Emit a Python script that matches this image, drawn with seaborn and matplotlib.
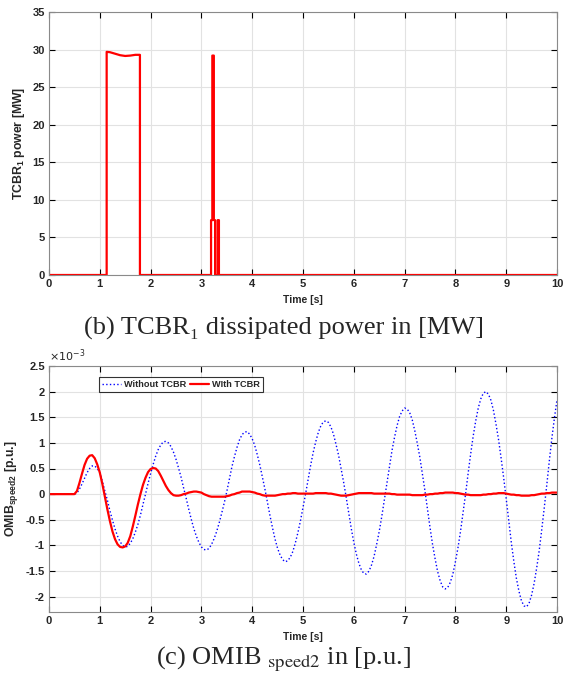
import numpy as np
import pandas as pd
import matplotlib
matplotlib.use("Agg")
import matplotlib.pyplot as plt
import seaborn as sns
from matplotlib.ticker import FuncFormatter

# --- data ---
# (b) TCBR1 dissipated power [MW]
power_t = [0, 1.135, 1.135, 1.2, 1.3, 1.4, 1.5, 1.6, 1.7, 1.79, 1.79,
           3.19, 3.19, 3.215, 3.215, 3.245, 3.245, 3.27, 3.27,
           3.32, 3.32, 3.345, 3.345, 10]
power_mw = [0, 0, 29.7, 29.65, 29.45, 29.25, 29.15, 29.2, 29.3, 29.3, 0,
            0, 7.3, 7.3, 29.2, 29.2, 7.3, 7.3, 0,
            0, 7.3, 7.3, 0, 0]

# (c) OMIB speed2 [x1e-3 p.u.], read every 0.05 s
time_s = [round(0.05 * i, 2) for i in range(201)]
without_tcbr = [
    0, 0, 0, 0, 0, 0, 0, 0, 0, 0,
    0, 0.02, 0.1, 0.2, 0.31, 0.42, 0.5, 0.55, 0.55, 0.5, 0.42, 0.25, 0.06,
    -0.12, -0.33, -0.51, -0.68, -0.82, -0.93, -1.0, -1.03, -1.02, -0.96, -0.87, -0.74, -0.59, -0.41, -0.2, 0.0,
    0.21, 0.4, 0.58, 0.74, 0.87, 0.96, 1.02, 1.03, 1.0, 0.93, 0.82, 0.68, 0.51, 0.33, 0.12,
    -0.08, -0.29, -0.49, -0.67, -0.82, -0.94, -1.03, -1.08, -1.09, -1.06, -0.98, -0.87, -0.73, -0.56, -0.37, -0.17,
    0.05, 0.29, 0.53, 0.73, 0.91, 1.06, 1.16, 1.21, 1.22, 1.17, 1.08, 0.95, 0.77, 0.57, 0.34, 0.1,
    -0.16, -0.42, -0.66, -0.88, -1.06, -1.19, -1.28, -1.32, -1.3, -1.23, -1.12, -0.95, -0.75, -0.52, -0.26, 0.0,
    0.28, 0.56, 0.81, 1.02, 1.2, 1.33, 1.41, 1.43, 1.4, 1.31, 1.17, 0.97, 0.76, 0.5, 0.23,
    -0.06, -0.37, -0.67, -0.94, -1.17, -1.35, -1.48, -1.55, -1.56, -1.5, -1.38, -1.21, -0.98, -0.73, -0.44, -0.12,
    0.2, 0.52, 0.84, 1.1, 1.33, 1.51, 1.62, 1.68, 1.66, 1.59, 1.45, 1.24, 0.99, 0.72, 0.4, 0.07,
    -0.29, -0.65, -0.98, -1.26, -1.51, -1.69, -1.81, -1.85, -1.82, -1.72, -1.56, -1.32, -1.05, -0.73, -0.37, 0.0,
    0.4, 0.78, 1.13, 1.43, 1.68, 1.86, 1.97, 2.0, 1.95, 1.83, 1.63, 1.36, 1.06, 0.7, 0.32,
    -0.09, -0.52, -0.94, -1.31, -1.64, -1.89, -2.08, -2.18, -2.2, -2.13, -1.97, -1.74, -1.44, -1.1, -0.69, -0.26,
    0.19, 0.66, 1.1, 1.49, 1.84]
with_tcbr = [
    0, 0, 0, 0, 0, 0, 0, 0, 0, 0,
    0, 0.06, 0.22, 0.4, 0.57, 0.69, 0.75, 0.76, 0.7, 0.58,
    0.42, 0.2, -0.05, -0.3, -0.53, -0.73, -0.88, -0.98, -1.03, -1.04,
    -1.02, -0.95, -0.82, -0.63, -0.42, -0.2, 0.0, 0.18, 0.32, 0.43,
    0.49, 0.51, 0.5, 0.45, 0.36, 0.26, 0.16, 0.08, 0.02, -0.02,
    -0.03, -0.03, -0.02,
    0.0, 0.01, 0.03, 0.04, 0.05, 0.05, 0.04, 0.03, 0.0, -0.02,
    -0.04, -0.05, -0.05, -0.05, -0.05, -0.05, -0.05, -0.04, -0.03, -0.01,
    0.0, 0.02, 0.03, 0.05, 0.05, 0.05, 0.05, 0.04, 0.03, 0.01,
    0.0, -0.02, -0.03, -0.03, -0.03, -0.03, -0.03, -0.02, -0.01, 0.0,
    0.0, 0.01, 0.01, 0.02, 0.02, 0.01, 0.01, 0.01, 0.01, 0.01,
    0.01, 0.01, 0.02, 0.02, 0.02, 0.02, 0.02, 0.01, 0.01, 0.0,
    -0.01, -0.02, -0.03, -0.03, -0.03, -0.02, -0.01, 0.0, 0.01, 0.02,
    0.02, 0.02, 0.02, 0.02, 0.02, 0.01, 0.01, 0.01, 0.01, 0.01,
    0.01, 0.01, 0.0, 0.0, -0.01, -0.01, -0.01, -0.01, -0.01, -0.01,
    -0.02, -0.02, -0.02, -0.02, -0.02, -0.01, -0.01, 0.0, 0.0, 0.01,
    0.01, 0.02, 0.02, 0.03, 0.03, 0.03, 0.03, 0.02, 0.02, 0.01,
    0.0, -0.01, -0.01, -0.02, -0.02, -0.02, -0.02, -0.02, -0.01, -0.01,
    0.0, 0.0, 0.01, 0.01, 0.02, 0.02, 0.02, 0.01, 0.0, -0.01,
    -0.01, -0.02, -0.02, -0.03, -0.03, -0.03, -0.03, -0.02, -0.02, -0.01,
    0.0, 0.01, 0.01, 0.02, 0.02, 0.03, 0.03, 0.03]

sns.set_style("ticks")
plt.rcParams['font.family'] = ['Liberation Sans', 'DejaVu Sans']
plt.rcParams['axes.unicode_minus'] = False
plt.rcParams['mathtext.fontset'] = 'custom'
plt.rcParams['mathtext.rm'] = 'Liberation Sans:bold'
plt.rcParams['mathtext.bf'] = 'Liberation Sans:bold'
plt.rcParams['mathtext.it'] = 'Liberation Sans:bold'

df_p = pd.DataFrame({'t': power_t, 'p': power_mw})
df_s = pd.DataFrame({'t': time_s, 'Without TCBR': without_tcbr, 'WIth TCBR': with_tcbr})

fig = plt.figure(figsize=(5.67, 6.8), dpi=100)
ax1 = fig.add_axes([49 / 567, 1 - 275 / 680, 508 / 567, 263 / 680])
ax2 = fig.add_axes([49 / 567, 1 - 612 / 680, 508 / 567, 246 / 680])


def style_axes(ax):
    ax.set_xlim(0, 10)
    ax.set_xticks(range(11))
    ax.grid(True, color='#e2e2e2', lw=0.8)
    ax.set_axisbelow(True)
    ax.tick_params(direction='in', top=True, right=True, length=4, width=0.8,
                   color='black', labelsize=8, pad=3)
    for lab in ax.get_xticklabels() + ax.get_yticklabels():
        lab.set_fontweight('bold')
    for s in ax.spines.values():
        s.set_color('#8a8a8a')
        s.set_linewidth(0.8)
    ax.set_xlabel('Time [s]', fontsize=7.5, fontweight='bold', labelpad=4)


# --- (b) power ---
sns.lineplot(data=df_p, x='t', y='p', ax=ax1, color='#ff0000', lw=1.6,
             estimator=None, sort=False)
ax1.set_ylim(0, 35)
ax1.set_yticks(range(0, 36, 5))
style_axes(ax1)
ax1.set_ylabel(r'TCBR$_{\mathbf{1}}$ power [MW]', fontsize=8.8, fontweight='bold',
               math_fontfamily='custom', labelpad=4)

# --- (c) OMIB speed ---
sns.lineplot(data=df_s, x='t', y='Without TCBR', ax=ax2, color='#0000ff', lw=1.0,
             linestyle=':', label='Without TCBR', estimator=None)
sns.lineplot(data=df_s, x='t', y='WIth TCBR', ax=ax2, color='#ff0000', lw=1.6,
             label='WIth TCBR', estimator=None)
ax2.set_ylim(-2.3, 2.5)
ax2.set_yticks(np.arange(-2, 2.51, 0.5))
ax2.yaxis.set_major_formatter(FuncFormatter(lambda v, p: f'{v:g}'))
style_axes(ax2)
ax2.set_ylabel(r'OMIB$_{\mathbf{speed2}}$ [p.u.]', fontsize=8.8, fontweight='bold',
               math_fontfamily='custom', labelpad=4)
ax2.text(0.0, 1.008, r'$\times10^{-3}$', transform=ax2.transAxes, fontsize=8,
         math_fontfamily='dejavusans', ha='left', va='bottom')
leg = ax2.legend(loc='upper left', bbox_to_anchor=(50 / 508, 0.955), ncol=2,
                 fontsize=6.6, frameon=True, fancybox=False, handlelength=2.1,
                 handletextpad=0.3, columnspacing=0.4, borderpad=0.35,
                 borderaxespad=0)
leg.get_frame().set_edgecolor('black')
leg.get_frame().set_linewidth(0.8)
for t in leg.get_texts():
    t.set_fontweight('bold')

# captions
serif = ['Liberation Serif', 'DejaVu Serif']
fig.text(0.5, 1 - 328 / 680, '(b) TCBR\u2081 dissipated power in [MW]',
         ha='center', va='center', fontsize=19, family=serif)
fig.text(0.5, 1 - 659 / 680, r'(c) OMIB $_{\mathrm{speed2}}$ in [p.u.]',
         ha='center', va='center', fontsize=19, family=serif,
         math_fontfamily='stix')

fig.savefig('out.png', dpi=100)
